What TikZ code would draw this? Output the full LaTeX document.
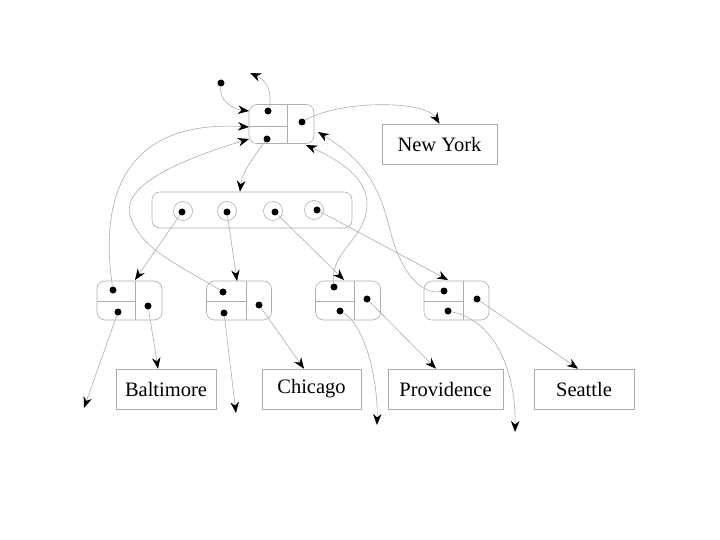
\documentclass[tikz,border=0pt]{standalone}
\usepackage{fontspec}
\setmainfont{Liberation Serif}
\usetikzlibrary{arrows.meta}
\begin{document}
\begin{tikzpicture}[x=1pt,y=-1pt,
  line/.style={draw=black!32, line width=0.6pt},
  arr/.style={line, -{Stealth[length=11pt,width=8.5pt,inset=3.5pt,color=black]}},
  pbox/.style={line, rounded corners=8pt, minimum width=65pt, minimum height=39pt, inner sep=0pt},
  tbox/.style={line, minimum height=40pt, inner sep=0pt, font=\fontsize{20.5}{24}\selectfont},
  dot/.style={circle, fill=black, inner sep=0pt, minimum size=7pt},
  cell/.style={circle, draw=black!32, line width=0.6pt, inner sep=0pt, minimum size=19pt}]
\useasboundingbox (0,0) rectangle (720,540);

% top node
\node[pbox] (top) at (281.5,124) {};
\draw[line] (287,104.5) -- (287,143.5);
\draw[line] (249,126) -- (287,126);
\node[dot] (t1) at (268,111) {};
\node[dot] (t2) at (267,139) {};
\node[dot] (t3) at (302,122) {};
\node[dot] (f) at (221,83) {};
\coordinate (up) at (250,73);

% New York
\node[tbox, minimum width=115pt] (ny) at (439.5,144) {New York};

% array
\node[line, rounded corners=8pt, minimum width=200pt, minimum height=36pt, inner sep=0pt] (arrbox) at (252,210) {};
\node[cell] (c1) at (183,211) {};
\node[cell] (c2) at (227,211) {};
\node[cell] (c3) at (273,211) {};
\node[cell] (c4) at (314,210) {};
\node[dot] (a1) at (182,212) {};
\node[dot] (a2) at (227,212) {};
\node[dot] (a3) at (275,212) {};
\node[dot] (a4) at (317,210) {};

% bottom nodes
\node[pbox] (n1) at (129.5,300.5) {};
\draw[line] (135,281) -- (135,320); \draw[line] (97,301) -- (135,301);
\node[pbox] (n2) at (239,300.5) {};
\draw[line] (246,281) -- (246,320); \draw[line] (206.5,301) -- (246,301);
\node[pbox] (n3) at (348,300.5) {};
\draw[line] (354,281) -- (354,320); \draw[line] (315.5,301) -- (354,301);
\node[pbox] (n4) at (456.5,300.5) {};
\draw[line] (463,281) -- (463,320); \draw[line] (424,301) -- (463,301);

\node[dot] (n1t) at (113,290) {};
\node[dot] (n1b) at (118,312) {};
\node[dot] (n1r) at (148,306) {};
\node[dot] (n2t) at (223,292) {};
\node[dot] (n2b) at (224,313) {};
\node[dot] (n2r) at (259,305) {};
\node[dot] (n3t) at (334,287) {};
\node[dot] (n3b) at (340,311) {};
\node[dot] (n3r) at (367,299) {};
\node[dot] (n4t) at (444,291) {};
\node[dot] (n4b) at (448,311) {};
\node[dot] (n4r) at (477,299) {};

% text boxes
\node[tbox, minimum width=100pt] (bal) at (166,389) {Baltimore};
\node[tbox, minimum width=99pt] (chi) at (311.5,389) {Chicago};
\node[tbox, minimum width=115pt] (pro) at (445.5,389) {Providence};
\node[tbox, minimum width=100pt] (sea) at (584,389) {Seattle};

\coordinate (e1) at (84,408);
\coordinate (e2) at (236,413);
\coordinate (e3) at (377,425);
\coordinate (e4) at (515,432);

% top connectors
\draw[arr] (f) .. controls (219,100) and (232,109) .. (249,111);
\draw[arr] (t1) .. controls (273,92) and (266,80) .. (up);
\draw[arr] (t3) .. controls (340,100) and (425,100) .. (ny.north);
\draw[arr] (t2) .. controls (255,155) and (242,172) .. (arrbox.north -| 240,0);

% back pointers
\draw[arr] (n1t) .. controls (98,190) and (130,120) .. (249,127);
\draw[arr] (n2t) .. controls (180,265) and (140,250) .. (130,215)
  .. controls (122,185) and (180,160) .. (249,139);
\draw[arr] (n3t) .. controls (330,250) and (366,240) .. (367,205)
  .. controls (368,175) and (332,157) .. (306,145);
\draw[arr] (n4t) .. controls (420,295) and (400,270) .. (390,230)
  .. controls (378,180) and (360,158) .. (318,132);

% array to nodes
\draw[arr] (a1) -- (135,280);
\draw[arr] (a2) -- (237,281);
\draw[arr] (a3) -- (344,280);
\draw[arr] (a4) -- (448,280);

% nodes to values / next
\draw[arr] (n1r) -- (bal.north -| 158,0);
\draw[arr] (n1b) -- (e1);
\draw[arr] (n2r) -- (chi.north -| 304,0);
\draw[arr] (n2b) -- (e2);
\draw[arr] (n3r) -- (pro.north -| 436,0);
\draw[arr] (n3b) .. controls (365,325) and (378,380) .. (e3);
\draw[arr] (n4r) -- (sea.north -| 578,0);
\draw[arr] (n4b) .. controls (500,322) and (516,380) .. (e4);
\end{tikzpicture}
\end{document}
